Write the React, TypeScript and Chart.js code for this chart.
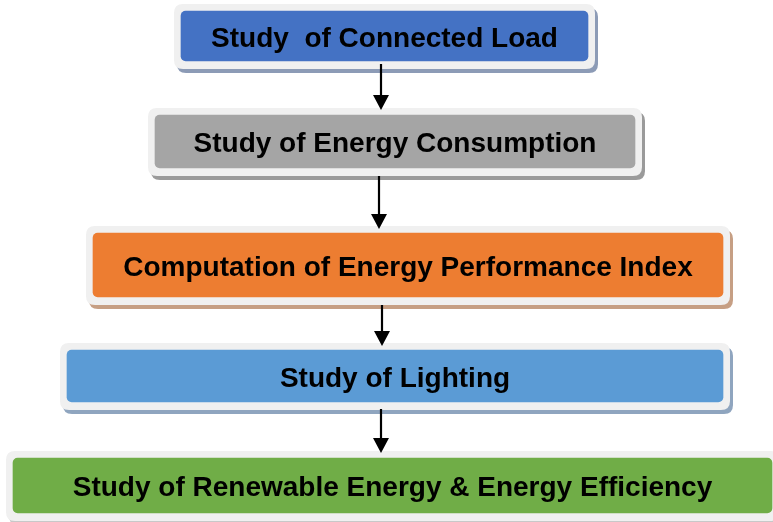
import React, { useEffect, useRef } from "react";
import { Chart, registerables } from "chart.js";

Chart.register(...registerables);

// Flow steps (top to bottom)
const steps = [
  "Study  of Connected Load",
  "Study of Energy Consumption",
  "Computation of Energy Performance Index",
  "Study of Lighting",
  "Study of Renewable Energy & Energy Efficiency",
];
// Box extents in page units (x: 0..773, y: 0..522 from top)
const boxLeft = [181, 155, 93, 67, 13];
const boxRight = [588, 635, 723, 723, 772];
const boxTop = [11, 115, 233, 350, 458];
const boxBottom = [61, 168, 297, 402, 513];
const fillColors = ["#4472C4", "#A5A5A5", "#ED7D31", "#5B9BD5", "#70AD47"];
const shadowColors = ["#8c9bb6", "#9a9a9a", "#c69f84", "#8fa5bf", "#c8c8c8"];
// Connecting arrows
const arrowX = [381, 379, 382, 381];
const arrowFrom = [64, 176, 305, 409];
const arrowTo = [110, 229, 346, 453];

function roundRect(ctx: CanvasRenderingContext2D, x: number, y: number, w: number, h: number, r: number) {
  ctx.beginPath();
  ctx.moveTo(x + r, y);
  ctx.lineTo(x + w - r, y);
  ctx.quadraticCurveTo(x + w, y, x + w, y + r);
  ctx.lineTo(x + w, y + h - r);
  ctx.quadraticCurveTo(x + w, y + h, x + w - r, y + h);
  ctx.lineTo(x + r, y + h);
  ctx.quadraticCurveTo(x, y + h, x, y + h - r);
  ctx.lineTo(x, y + r);
  ctx.quadraticCurveTo(x, y, x + r, y);
  ctx.closePath();
}

const framePlugin = {
  id: "frames",
  beforeDatasetsDraw(chart: any) {
    const ctx = chart.ctx as CanvasRenderingContext2D;
    ctx.save();
    chart.data.datasets.forEach((_ds: any, i: number) => {
      const el = chart.getDatasetMeta(i).data[0];
      if (!el) return;
      const p = el.getProps(["x", "y", "base", "height"], true);
      const left = Math.min(p.x, p.base);
      const right = Math.max(p.x, p.base);
      const top = p.y - p.height / 2;
      const w = right - left;
      const h = p.height;
      // shadow
      ctx.fillStyle = shadowColors[i];
      roundRect(ctx, left - 7 + 3, top - 7 + 4, w + 14, h + 15, 9);
      ctx.fill();
      // light frame
      ctx.fillStyle = "#f0f0f0";
      roundRect(ctx, left - 7, top - 7, w + 14, h + 15, 9);
      ctx.fill();
    });
    ctx.restore();
  },
  afterDatasetsDraw(chart: any) {
    const ctx = chart.ctx as CanvasRenderingContext2D;
    const xs = chart.scales.x;
    const ys = chart.scales.y;
    ctx.save();
    // labels
    ctx.fillStyle = "#000000";
    ctx.font = 'bold 28px "Liberation Sans", Arial, sans-serif';
    ctx.textAlign = "center";
    ctx.textBaseline = "alphabetic";
    chart.data.datasets.forEach((ds: any, i: number) => {
      const el = chart.getDatasetMeta(i).data[0];
      if (!el) return;
      const p = el.getProps(["x", "y", "base"], true);
      const cx = (p.x + p.base) / 2;
      ctx.fillText(ds.label, cx, p.y + 10.5);
    });
    // arrows
    ctx.strokeStyle = "#000000";
    ctx.fillStyle = "#000000";
    ctx.lineWidth = 2.2;
    for (let i = 0; i < arrowX.length; i++) {
      const x = xs.getPixelForValue(arrowX[i]);
      const y0 = ys.getPixelForValue(arrowFrom[i]);
      const y1 = ys.getPixelForValue(arrowTo[i]);
      const headH = 15;
      const headW = 8;
      ctx.beginPath();
      ctx.moveTo(x, y0);
      ctx.lineTo(x, y1 - headH + 1);
      ctx.stroke();
      ctx.beginPath();
      ctx.moveTo(x - headW, y1 - headH);
      ctx.lineTo(x + headW, y1 - headH);
      ctx.lineTo(x, y1);
      ctx.closePath();
      ctx.fill();
    }
    ctx.restore();
  },
};

export default function App() {
  const canvasRef = useRef<HTMLCanvasElement | null>(null);

  useEffect(() => {
    if (!canvasRef.current) return;
    const chart = new Chart(canvasRef.current, {
      type: "bar",
      data: {
        datasets: steps.map((label, i) => ({
          label,
          data: [{ x: [boxLeft[i], boxRight[i]], y: (boxTop[i] + boxBottom[i]) / 2 }],
          barThickness: boxBottom[i] - boxTop[i],
          backgroundColor: fillColors[i],
          borderWidth: 0,
          borderRadius: 5,
          borderSkipped: false,
          grouped: false,
        })) as any,
      },
      options: {
        indexAxis: "y",
        animation: false,
        responsive: true,
        maintainAspectRatio: false,
        events: [],
        layout: { padding: 0 },
        plugins: {
          legend: { display: false },
          tooltip: { enabled: false },
        },
        scales: {
          x: { type: "linear", min: 0, max: 773, display: false, offset: false },
          y: { type: "linear", min: 0, max: 522, reverse: true, display: false, offset: false },
        },
      } as any,
      plugins: [framePlugin],
    });
    return () => chart.destroy();
  }, []);

  return (
    <div style={{ position: "absolute", left: 0, top: 0, width: 773, height: 522, background: "#ffffff" }}>
      <canvas ref={canvasRef} />
    </div>
  );
}
